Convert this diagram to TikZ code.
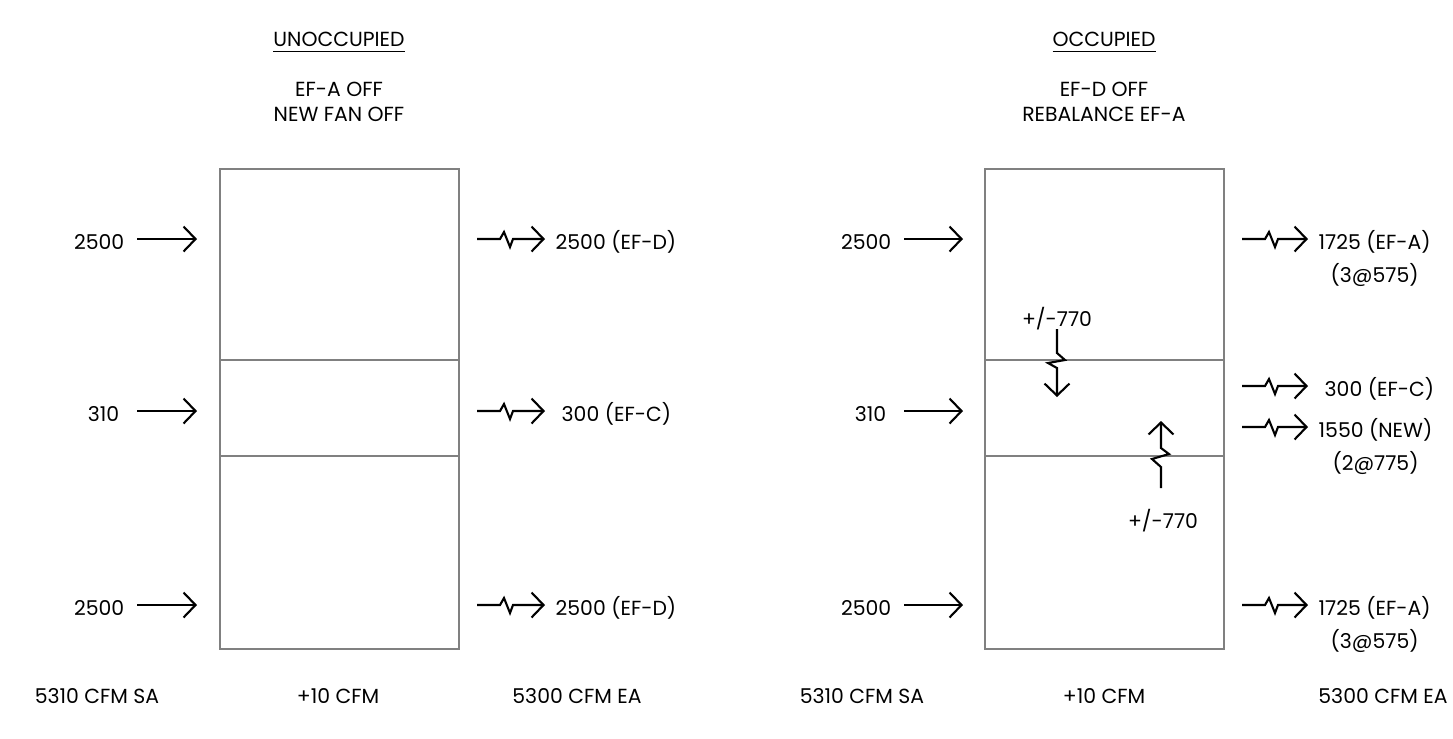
\documentclass[tikz,border=0pt]{standalone}
\usepackage{fontspec}
\setmainfont{Poppins}
\usetikzlibrary{arrows.meta,positioning,calc}
\definecolor{WallGray}{HTML}{808080}

\tikzset{
  lbl/.style={inner sep=0pt, text height=0.6em, text depth=0pt, font=\fontsize{5.8}{7}\selectfont},
  room/.style={draw=WallGray, line width=0.45pt, minimum width=2.39cm, minimum height=4.8cm, inner sep=0pt},
  airflow/.style={-{Straight Barb[length=0.12cm,width=0.25cm]}, line width=0.6pt},
  zigout/.style={to path={-- ++(23,0) -- ++(4,-7) -- ++(6,15) -- ++(3,-8) -- (\tikztotarget)}},
  zigdown/.style={to path={-- ++(0,24) -- ++(8,7) -- ++(-17,3) -- ++(9,5) -- (\tikztotarget)}},
  zigup/.style={to path={-- ++(0,-21) -- ++(-9,-8) -- ++(17,-5) -- ++(-8,-6) -- (\tikztotarget)}},
}

\begin{document}
\begin{tikzpicture}[x=0.01cm, y=-0.01cm]
  \useasboundingbox (0,0) rectangle (1453,738);

  % ---- unoccupied ----
  \node[lbl] (headL) at (339,36) {\underline{UNOCCUPIED}};
  \node[lbl] (noteL1) at (339,86) {EF-A OFF};
  \node[lbl] (noteL2) at (339,111) {NEW FAN OFF};

  \node[room] (roomL) at (339.5,409) {};
  \draw[WallGray, line width=0.45pt] ($(roomL.north west)+(0,192)$) -- ($(roomL.north east)+(0,192)$);
  \draw[WallGray, line width=0.45pt] ($(roomL.north west)+(0,288)$) -- ($(roomL.north east)+(0,288)$);

  \coordinate (inL1s) at (137,239);  \coordinate (inL1) at (197,239);
  \coordinate (inL2s) at (137,411);  \coordinate (inL2) at (197,411);
  \coordinate (inL3s) at (137,605);  \coordinate (inL3) at (197,605);
  \node[lbl, left=0.12cm of inL1s] (saL1) {2500};
  \node[lbl, left=0.17cm of inL2s] (saL2) {310};
  \node[lbl, left=0.12cm of inL3s] (saL3) {2500};
  \draw[airflow] (inL1s) -- (inL1);
  \draw[airflow] (inL2s) -- (inL2);
  \draw[airflow] (inL3s) -- (inL3);

  \coordinate (outL1) at (477,239);
  \coordinate (outL2) at (477,411);
  \coordinate (outL3) at (477,605);
  \node[lbl, anchor=west] (eaL1) at (555,239) {2500 (EF-D)};
  \node[lbl, anchor=west] (eaL2) at (561,411) {300 (EF-C)};
  \node[lbl, anchor=west] (eaL3) at (555,605) {2500 (EF-D)};
  \draw[airflow] (outL1) to[zigout] ($(eaL1.west)+(-10,0)$);
  \draw[airflow] (outL2) to[zigout] ($(eaL2.west)+(-16,0)$);
  \draw[airflow] (outL3) to[zigout] ($(eaL3.west)+(-10,0)$);

  \node[lbl] (sumL1) at (97,693) {5310 CFM SA};
  \node[lbl] (sumL2) at (338,693) {+10 CFM};
  \node[lbl] (sumL3) at (577,693) {5300 CFM EA};

  % ---- occupied ----
  \node[lbl] (headR) at (1104,36) {\underline{OCCUPIED}};
  \node[lbl] (noteR1) at (1104,86) {EF-D OFF};
  \node[lbl] (noteR2) at (1104,111) {REBALANCE EF-A};

  \node[room] (roomR) at (1104.5,409) {};
  \draw[WallGray, line width=0.45pt] ($(roomR.north west)+(0,192)$) -- ($(roomR.north east)+(0,192)$);
  \draw[WallGray, line width=0.45pt] ($(roomR.north west)+(0,288)$) -- ($(roomR.north east)+(0,288)$);

  \coordinate (inR1s) at (904,239);  \coordinate (inR1) at (963,239);
  \coordinate (inR2s) at (904,411);  \coordinate (inR2) at (963,411);
  \coordinate (inR3s) at (904,605);  \coordinate (inR3) at (963,605);
  \node[lbl, left=0.12cm of inR1s] (saR1) {2500};
  \node[lbl, left=0.17cm of inR2s] (saR2) {310};
  \node[lbl, left=0.12cm of inR3s] (saR3) {2500};
  \draw[airflow] (inR1s) -- (inR1);
  \draw[airflow] (inR2s) -- (inR2);
  \draw[airflow] (inR3s) -- (inR3);

  \coordinate (outR1) at (1242,239);
  \coordinate (outR2) at (1242,386);
  \coordinate (outR3) at (1242,427);
  \coordinate (outR4) at (1242,605);
  \node[lbl, anchor=west] (eaR1) at (1318,239) {1725 (EF-A)};
  \node[lbl, below=0.1cm of eaR1] (eaR1b) {(3@575)};
  \node[lbl, anchor=west] (eaR2) at (1324,386) {300 (EF-C)};
  \node[lbl, anchor=west] (eaR3) at (1318,427) {1550 (NEW)};
  \node[lbl, below=0.1cm of eaR3] (eaR3b) {(2@775)};
  \node[lbl, anchor=west] (eaR4) at (1318,605) {1725 (EF-A)};
  \node[lbl, below=0.1cm of eaR4] (eaR4b) {(3@575)};
  \draw[airflow] (outR1) to[zigout] ($(eaR1.west)+(-10,0)$);
  \draw[airflow] (outR2) to[zigout] ($(eaR2.west)+(-16,0)$);
  \draw[airflow] (outR3) to[zigout] ($(eaR3.west)+(-10,0)$);
  \draw[airflow] (outR4) to[zigout] ($(eaR4.west)+(-10,0)$);

  % transfer air between zones
  \node[lbl] (xferA) at (1057,316) {+/-770};
  \coordinate (xferAs) at (1057,329);  \coordinate (xferAe) at (1057,397);
  \draw[airflow] (xferAs) to[zigdown] (xferAe);
  \node[lbl] (xferB) at (1163,518) {+/-770};
  \coordinate (xferBs) at (1161,488);  \coordinate (xferBe) at (1161,421);
  \draw[airflow] (xferBs) to[zigup] (xferBe);

  \node[lbl] (sumR1) at (862,693) {5310 CFM SA};
  \node[lbl] (sumR2) at (1104,693) {+10 CFM};
  \node[lbl] (sumR3) at (1383,693) {5300 CFM EA};
\end{tikzpicture}
\end{document}
